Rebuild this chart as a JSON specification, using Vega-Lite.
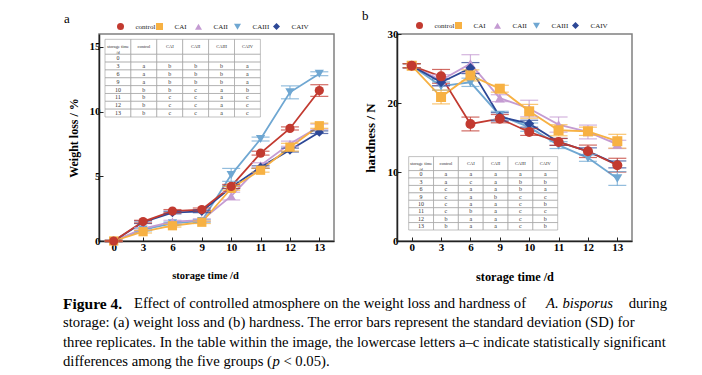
{
  "$schema": "https://vega.github.io/schema/vega-lite/v6.json",
  "padding": {"left": 63, "top": 9, "right": 5, "bottom": 2},
  "background": "white",
  "datasets": {
    "wl": [
      {"s":"CAIII","t":0,"v":0,"sd":0.05},{"s":"CAIII","t":3,"v":0.88,"sd":0.1},{"s":"CAIII","t":6,"v":1.37,"sd":0.1},{"s":"CAIII","t":9,"v":1.55,"sd":0.1},{"s":"CAIII","t":10,"v":5.11,"sd":0.5},{"s":"CAIII","t":11,"v":7.88,"sd":0.15},{"s":"CAIII","t":12,"v":11.49,"sd":0.5},{"s":"CAIII","t":13,"v":12.93,"sd":0.15},
      {"s":"CAII","t":0,"v":0,"sd":0.05},{"s":"CAII","t":3,"v":0.95,"sd":0.1},{"s":"CAII","t":6,"v":1.5,"sd":0.1},{"s":"CAII","t":9,"v":1.62,"sd":0.1},{"s":"CAII","t":10,"v":3.47,"sd":0.3},{"s":"CAII","t":11,"v":5.85,"sd":0.2},{"s":"CAII","t":12,"v":7.52,"sd":0.2},{"s":"CAII","t":13,"v":8.84,"sd":0.2},
      {"s":"CAIV","t":0,"v":0,"sd":0.05},{"s":"CAIV","t":3,"v":1.45,"sd":0.1},{"s":"CAIV","t":6,"v":2.2,"sd":0.1},{"s":"CAIV","t":9,"v":2.29,"sd":0.1},{"s":"CAIV","t":10,"v":4.15,"sd":0.1},{"s":"CAIV","t":11,"v":5.71,"sd":0.1},{"s":"CAIV","t":12,"v":7.03,"sd":0.15},{"s":"CAIV","t":13,"v":8.41,"sd":0.1},
      {"s":"CAI","t":0,"v":0,"sd":0.05},{"s":"CAI","t":3,"v":0.72,"sd":0.1},{"s":"CAI","t":6,"v":1.18,"sd":0.1},{"s":"CAI","t":9,"v":1.45,"sd":0.1},{"s":"CAI","t":10,"v":4.07,"sd":0.15},{"s":"CAI","t":11,"v":5.47,"sd":0.15},{"s":"CAI","t":12,"v":7.25,"sd":0.3},{"s":"CAI","t":13,"v":8.91,"sd":0.2},
      {"s":"control","t":0,"v":0,"sd":0.05},{"s":"control","t":3,"v":1.5,"sd":0.1},{"s":"control","t":6,"v":2.31,"sd":0.12},{"s":"control","t":9,"v":2.43,"sd":0.12},{"s":"control","t":10,"v":4.22,"sd":0.15},{"s":"control","t":11,"v":6.79,"sd":0.15},{"s":"control","t":12,"v":8.7,"sd":0.12},{"s":"control","t":13,"v":11.63,"sd":0.45}
    ],
    "hd": [
      {"s":"CAIII","t":0,"v":25.4,"sd":0.3},{"s":"CAIII","t":3,"v":22.46,"sd":0.6},{"s":"CAIII","t":6,"v":23.0,"sd":0.6},{"s":"CAIII","t":9,"v":18.2,"sd":0.6},{"s":"CAIII","t":10,"v":16.5,"sd":0.6},{"s":"CAIII","t":11,"v":13.9,"sd":0.5},{"s":"CAIII","t":12,"v":12.05,"sd":0.5},{"s":"CAIII","t":13,"v":9.06,"sd":1.0},
      {"s":"CAII","t":0,"v":25.4,"sd":0.3},{"s":"CAII","t":3,"v":23.3,"sd":0.8},{"s":"CAII","t":6,"v":25.7,"sd":1.3},{"s":"CAII","t":9,"v":20.7,"sd":0.5},{"s":"CAII","t":10,"v":19.2,"sd":1.2},{"s":"CAII","t":11,"v":16.87,"sd":1.1},{"s":"CAII","t":12,"v":15.8,"sd":1.0},{"s":"CAII","t":13,"v":14.0,"sd":0.6},
      {"s":"CAIV","t":0,"v":25.4,"sd":0.3},{"s":"CAIV","t":3,"v":23.0,"sd":0.5},{"s":"CAIV","t":6,"v":25.06,"sd":0.8},{"s":"CAIV","t":9,"v":18.0,"sd":0.6},{"s":"CAIV","t":10,"v":17.0,"sd":0.5},{"s":"CAIV","t":11,"v":14.36,"sd":0.5},{"s":"CAIV","t":12,"v":13.0,"sd":0.5},{"s":"CAIV","t":13,"v":11.1,"sd":0.5},
      {"s":"CAI","t":0,"v":25.4,"sd":0.3},{"s":"CAI","t":3,"v":20.87,"sd":1.0},{"s":"CAI","t":6,"v":24.0,"sd":0.8},{"s":"CAI","t":9,"v":22.07,"sd":0.5},{"s":"CAI","t":10,"v":18.8,"sd":1.0},{"s":"CAI","t":11,"v":16.05,"sd":0.8},{"s":"CAI","t":12,"v":15.9,"sd":0.6},{"s":"CAI","t":13,"v":14.46,"sd":1.0},
      {"s":"control","t":0,"v":25.4,"sd":0.3},{"s":"control","t":3,"v":23.86,"sd":1.0},{"s":"control","t":6,"v":16.96,"sd":1.0},{"s":"control","t":9,"v":17.73,"sd":0.6},{"s":"control","t":10,"v":15.8,"sd":0.5},{"s":"control","t":11,"v":14.36,"sd":0.5},{"s":"control","t":12,"v":13.0,"sd":0.9},{"s":"control","t":13,"v":10.99,"sd":1.0}
    ],
    "hdr": [
      {"col":"st","r":"h","text":"storage time\n/d"},{"col":"control","r":"h","text":"control"},{"col":"CAI","r":"h","text":"CAI"},{"col":"CAII","r":"h","text":"CAII"},{"col":"CAIII","r":"h","text":"CAIII"},{"col":"CAIV","r":"h","text":"CAIV"}
    ],
    "tabA": [
      {"t":"0","st":"0","control":"","CAI":"","CAII":"","CAIII":"","CAIV":""},
      {"t":"3","st":"3","control":"a","CAI":"b","CAII":"b","CAIII":"b","CAIV":"a"},
      {"t":"6","st":"6","control":"a","CAI":"b","CAII":"b","CAIII":"b","CAIV":"a"},
      {"t":"9","st":"9","control":"a","CAI":"b","CAII":"b","CAIII":"b","CAIV":"a"},
      {"t":"10","st":"10","control":"b","CAI":"b","CAII":"c","CAIII":"a","CAIV":"b"},
      {"t":"11","st":"11","control":"b","CAI":"c","CAII":"c","CAIII":"a","CAIV":"c"},
      {"t":"12","st":"12","control":"b","CAI":"c","CAII":"c","CAIII":"a","CAIV":"c"},
      {"t":"13","st":"13","control":"b","CAI":"c","CAII":"c","CAIII":"a","CAIV":"c"}
    ],
    "tabB": [
      {"t":"0","st":"0","control":"a","CAI":"a","CAII":"a","CAIII":"a","CAIV":"a"},
      {"t":"3","st":"3","control":"a","CAI":"c","CAII":"a","CAIII":"b","CAIV":"b"},
      {"t":"6","st":"6","control":"c","CAI":"a","CAII":"a","CAIII":"b","CAIV":"a"},
      {"t":"9","st":"9","control":"c","CAI":"a","CAII":"b","CAIII":"c","CAIV":"c"},
      {"t":"10","st":"10","control":"c","CAI":"a","CAII":"a","CAIII":"c","CAIV":"b"},
      {"t":"11","st":"11","control":"c","CAI":"b","CAII":"a","CAIII":"c","CAIV":"c"},
      {"t":"12","st":"12","control":"b","CAI":"a","CAII":"a","CAIII":"c","CAIV":"b"},
      {"t":"13","st":"13","control":"b","CAI":"a","CAII":"a","CAIII":"c","CAIV":"b"}
    ],
    "cap": [
      {"line":1,"side":"L","seg":"bold","text":"Figure 4."},
      {"line":1,"side":"L","seg":"l1","text":"Effect of controlled atmosphere on the weight loss and hardness of"},
      {"line":1,"side":"R","seg":"ital","text":"A. bisporus"},
      {"line":1,"side":"R","seg":"end","text":"during"},
      {"line":2,"side":"L","seg":"plain","text":"storage: (a) weight loss and (b) hardness. The error bars represent the standard deviation (SD) for"},
      {"line":3,"side":"L","seg":"plain","text":"three replicates. In the table within the image, the lowercase letters a–c indicate statistically significant"},
      {"line":4,"side":"L","seg":"plain","text":"differences among the five groups ("},
      {"line":4,"side":"L","seg":"p","text":"p"},
      {"line":4,"side":"L","seg":"tail","text":"< 0.05)."}
    ]
  },
  "concat": [
    {
      "hconcat": [
        {
          "width": 235, "height": 207,
          "title": {"text": "a", "offset": 4, "dy": 7, "dx": -3},
          "layer": [
            {
              "data": {"name": "wl"},
              "layer": [
                {
                  "mark": {"type": "line", "strokeWidth": 1.8},
                  "encoding": {
                    "x": {"field": "t", "type": "ordinal", "scale": {"type": "point", "padding": 0.5}, "axis": {"labelAngle": 0, "title": "storage time /d", "titleFontSize": 10.5, "labelPadding": 4, "titlePadding": 18, "titleX": 106}},
                    "y": {"field": "v", "type": "quantitative", "scale": {"domain": [0, 15]}, "axis": {"values": [0, 5, 10, 15], "title": "Weight loss / %", "titleFontSize": 12, "labelPadding": 3, "titlePadding": 9}},
                    "color": {"field": "s", "type": "nominal"}
                  }
                },
                {
                  "mark": {"type": "errorbar", "ticks": true, "thickness": 1.2, "opacity": 0.75},
                  "encoding": {
                    "x": {"field": "t", "type": "ordinal"},
                    "y": {"field": "v", "type": "quantitative", "title": "Weight loss / %"},
                    "yError": {"field": "sd"},
                    "color": {"field": "s", "type": "nominal"}
                  }
                },
                {
                  "mark": {"type": "point", "filled": true, "size": 85, "opacity": 1},
                  "encoding": {
                    "x": {"field": "t", "type": "ordinal"},
                    "y": {"field": "v", "type": "quantitative", "title": "Weight loss / %"},
                    "color": {"field": "s", "type": "nominal", "scale": {"domain": ["control","CAI","CAII","CAIII","CAIV"], "range": ["#c23a30","#f7b143","#c49bd2","#6fa7d2","#2c4796"]},
                      "legend": {"orient": "none", "legendX": 18, "legendY": -11, "direction": "horizontal", "columns": 5, "gridAlign": "all", "title": null, "symbolSize": 49, "labelOffset": 11.5, "columnPadding": 0, "labelFont": "Liberation Serif", "labelFontSize": 7, "labelColor": "#222", "padding": 0, "symbolStrokeWidth": 0, "symbolOpacity": 1,
                        "encoding": {"symbols": {"shape": {"value": {"expr": "datum.value==='control'?'M-2.3,-0.15L2.3,-0.15L2.3,0.15L-2.3,0.15Z M0.95,0A0.95,0.95,0,1,1,-0.95,0A0.95,0.95,0,1,1,0.95,0Z':datum.value==='CAI'?'M-2.3,-0.15L2.3,-0.15L2.3,0.15L-2.3,0.15Z M-0.85,-0.85L0.85,-0.85L0.85,0.85L-0.85,0.85Z':datum.value==='CAII'?'M-2.3,-0.15L2.3,-0.15L2.3,0.15L-2.3,0.15Z M0,-1L0.95,0.75L-0.95,0.75Z':datum.value==='CAIII'?'M-2.3,-0.15L2.3,-0.15L2.3,0.15L-2.3,0.15Z M-0.95,-0.75L0.95,-0.75L0,1Z':'M-2.3,-0.15L2.3,-0.15L2.3,0.15L-2.3,0.15Z M0,-1L0.8,0L0,1L-0.8,0Z'"}}}}}},
                    "shape": {"field": "s", "type": "nominal", "legend": null, "scale": {"domain": ["control","CAI","CAII","CAIII","CAIV"], "range": ["circle","square","triangle-up","triangle-down","diamond"]}}
                  }
                }
              ]
            },
            {
              "layer": [
                {
                  "data": {"name": "hdr"},
                  "encoding": {
                    "x": {"field": "col", "type": "nominal", "scale": {"domain": ["st","control","CAI","CAII","CAIII","CAIV"], "range": [6, 161.4], "paddingInner": 0, "paddingOuter": 0}, "axis": null},
                    "y": {"field": "r", "type": "nominal", "scale": {"domain": ["h"], "range": [5.3, 20.3], "paddingInner": 0, "paddingOuter": 0}, "axis": null}
                  },
                  "layer": [
                    {"mark": {"type": "rect", "fill": "white", "stroke": "#999", "strokeWidth": 0.6}},
                    {"mark": {"type": "text", "fontSize": 4.5, "lineBreak": "\n", "color": "#333", "font": "Liberation Serif"}, "encoding": {"text": {"field": "text"}}}
                  ]
                },
                {
                  "data": {"name": "tabA"},
                  "transform": [{"fold": ["st","control","CAI","CAII","CAIII","CAIV"], "as": ["col","val"]}],
                  "encoding": {
                    "x": {"field": "col", "type": "nominal", "axis": null},
                    "y": {"field": "t", "type": "nominal", "scale": {"domain": ["0","3","6","9","10","11","12","13"], "range": [20.3, 83], "paddingInner": 0, "paddingOuter": 0}, "axis": null}
                  },
                  "layer": [
                    {"mark": {"type": "rect", "fill": "white", "stroke": "#999", "strokeWidth": 0.6}},
                    {"mark": {"type": "text", "fontSize": 6, "color": "#333", "font": "Liberation Serif"}, "encoding": {"text": {"field": "val"}}}
                  ]
                }
              ],
              "resolve": {"scale": {"y": "independent"}}
            }
          ],
          "resolve": {"scale": {"x": "independent", "y": "independent"}}
        },
        {
          "width": 235, "height": 207,
          "title": {"text": "b", "offset": 4, "dx": -2, "dy": 5},
          "layer": [
            {
              "data": {"name": "hd"},
              "layer": [
                {
                  "mark": {"type": "line", "strokeWidth": 1.8},
                  "encoding": {
                    "x": {"field": "t", "type": "ordinal", "scale": {"type": "point", "padding": 0.5}, "axis": {"labelAngle": 0, "title": "storage time /d", "titleFontSize": 12.3, "labelPadding": 4, "titlePadding": 18}},
                    "y": {"field": "v", "type": "quantitative", "scale": {"domain": [0, 30]}, "axis": {"values": [0, 10, 20, 30], "title": "hardness / N", "titleFontSize": 13, "labelPadding": 3, "titlePadding": 10}},
                    "color": {"field": "s", "type": "nominal"}
                  }
                },
                {
                  "mark": {"type": "errorbar", "ticks": true, "thickness": 1.2, "opacity": 0.75},
                  "encoding": {
                    "x": {"field": "t", "type": "ordinal"},
                    "y": {"field": "v", "type": "quantitative", "title": "hardness / N"},
                    "yError": {"field": "sd"},
                    "color": {"field": "s", "type": "nominal"}
                  }
                },
                {
                  "mark": {"type": "point", "filled": true, "size": 100, "opacity": 1},
                  "encoding": {
                    "x": {"field": "t", "type": "ordinal"},
                    "y": {"field": "v", "type": "quantitative", "title": "hardness / N"},
                    "color": {"field": "s", "type": "nominal", "scale": {"domain": ["control","CAI","CAII","CAIII","CAIV"], "range": ["#c23a30","#f7b143","#c49bd2","#6fa7d2","#2c4796"]},
                      "legend": {"orient": "none", "legendX": 19, "legendY": -12, "direction": "horizontal", "columns": 5, "gridAlign": "all", "title": null, "symbolSize": 49, "labelOffset": 11.5, "columnPadding": 0, "labelFont": "Liberation Serif", "labelFontSize": 7, "labelColor": "#222", "padding": 0, "symbolStrokeWidth": 0, "symbolOpacity": 1,
                        "encoding": {"symbols": {"shape": {"value": {"expr": "datum.value==='control'?'M-2.3,-0.15L2.3,-0.15L2.3,0.15L-2.3,0.15Z M0.95,0A0.95,0.95,0,1,1,-0.95,0A0.95,0.95,0,1,1,0.95,0Z':datum.value==='CAI'?'M-2.3,-0.15L2.3,-0.15L2.3,0.15L-2.3,0.15Z M-0.85,-0.85L0.85,-0.85L0.85,0.85L-0.85,0.85Z':datum.value==='CAII'?'M-2.3,-0.15L2.3,-0.15L2.3,0.15L-2.3,0.15Z M0,-1L0.95,0.75L-0.95,0.75Z':datum.value==='CAIII'?'M-2.3,-0.15L2.3,-0.15L2.3,0.15L-2.3,0.15Z M-0.95,-0.75L0.95,-0.75L0,1Z':'M-2.3,-0.15L2.3,-0.15L2.3,0.15L-2.3,0.15Z M0,-1L0.8,0L0,1L-0.8,0Z'"}}}}}},
                    "shape": {"field": "s", "type": "nominal", "legend": null, "scale": {"domain": ["control","CAI","CAII","CAIII","CAIV"], "range": ["circle","square","triangle-up","triangle-down","diamond"]}}
                  }
                }
              ]
            },
            {
              "layer": [
                {
                  "data": {"name": "hdr"},
                  "encoding": {
                    "x": {"field": "col", "type": "nominal", "scale": {"domain": ["st","control","CAI","CAII","CAIII","CAIV"], "range": [11.7, 160.7], "paddingInner": 0, "paddingOuter": 0}, "axis": null},
                    "y": {"field": "r", "type": "nominal", "scale": {"domain": ["h"], "range": [122.6, 136.6], "paddingInner": 0, "paddingOuter": 0}, "axis": null}
                  },
                  "layer": [
                    {"mark": {"type": "rect", "fill": "white", "stroke": "#999", "strokeWidth": 0.6}},
                    {"mark": {"type": "text", "fontSize": 4.5, "lineBreak": "\n", "color": "#333", "font": "Liberation Serif"}, "encoding": {"text": {"field": "text"}}}
                  ]
                },
                {
                  "data": {"name": "tabB"},
                  "transform": [{"fold": ["st","control","CAI","CAII","CAIII","CAIV"], "as": ["col","val"]}],
                  "encoding": {
                    "x": {"field": "col", "type": "nominal", "axis": null},
                    "y": {"field": "t", "type": "nominal", "scale": {"domain": ["0","3","6","9","10","11","12","13"], "range": [136.6, 196], "paddingInner": 0, "paddingOuter": 0}, "axis": null}
                  },
                  "layer": [
                    {"mark": {"type": "rect", "fill": "white", "stroke": "#999", "strokeWidth": 0.6}},
                    {"mark": {"type": "text", "fontSize": 6, "color": "#333", "font": "Liberation Serif"}, "encoding": {"text": {"field": "val"}}}
                  ]
                }
              ],
              "resolve": {"scale": {"y": "independent"}}
            }
          ],
          "resolve": {"scale": {"x": "independent", "y": "independent"}}
        }
      ],
      "spacing": 26,
      "resolve": {"scale": {"color": "independent", "shape": "independent"}}
    },
    {
      "width": 603, "height": 78,
      "view": {"stroke": null},
      "data": {"name": "cap"},
      "encoding": {
        "x": {"field": "side", "type": "nominal", "scale": {"type": "point", "domain": ["L","R"], "padding": 0, "range": [-36, 568]}, "axis": null},
        "y": {"field": "line", "type": "ordinal", "scale": {"type": "point", "padding": 0.5}, "axis": null},
        "text": {"field": "text"}
      },
      "layer": [
        {"transform": [{"filter": "datum.seg === 'bold'"}], "mark": {"type": "text", "align": "left", "baseline": "middle", "font": "Liberation Serif", "fontSize": 15.5, "fontWeight": "bold", "color": "#000"}},
        {"transform": [{"filter": "datum.seg === 'l1'"}], "mark": {"type": "text", "align": "left", "baseline": "middle", "font": "Liberation Serif", "fontSize": 14.7, "dx": 71, "color": "#000"}},
        {"transform": [{"filter": "datum.seg === 'ital'"}], "mark": {"type": "text", "align": "right", "baseline": "middle", "font": "Liberation Serif", "fontSize": 14.7, "fontStyle": "italic", "dx": -54, "color": "#000"}},
        {"transform": [{"filter": "datum.seg === 'end'"}], "mark": {"type": "text", "align": "right", "baseline": "middle", "font": "Liberation Serif", "fontSize": 14.7, "color": "#000"}},
        {"transform": [{"filter": "datum.seg === 'plain'"}], "mark": {"type": "text", "align": "left", "baseline": "middle", "font": "Liberation Serif", "fontSize": 14.7, "color": "#000"}},
        {"transform": [{"filter": "datum.seg === 'p'"}], "mark": {"type": "text", "align": "left", "baseline": "middle", "font": "Liberation Serif", "fontSize": 14.7, "fontStyle": "italic", "dx": 209.4, "color": "#000"}},
        {"transform": [{"filter": "datum.seg === 'tail'"}], "mark": {"type": "text", "align": "left", "baseline": "middle", "font": "Liberation Serif", "fontSize": 14.7, "dx": 220.4, "color": "#000"}}
      ]
    }
  ],
  "columns": 1,
  "align": "none",
  "spacing": 10,
  "config": {
    "font": "Liberation Serif",
    "view": {"stroke": "#808080", "strokeWidth": 1.5},
    "axis": {"domainColor": "#222", "domainWidth": 1.5, "tickColor": "#222", "tickWidth": 1, "tickSize": -4, "labelFont": "Liberation Serif", "labelFontWeight": "bold", "labelFontSize": 11, "labelColor": "#000", "titleFont": "Liberation Serif", "titleFontWeight": "bold", "titleColor": "#000", "grid": false},
    "title": {"font": "Liberation Serif", "fontWeight": "normal", "fontSize": 13, "anchor": "start", "frame": "bounds", "color": "#000"}
  }
}
